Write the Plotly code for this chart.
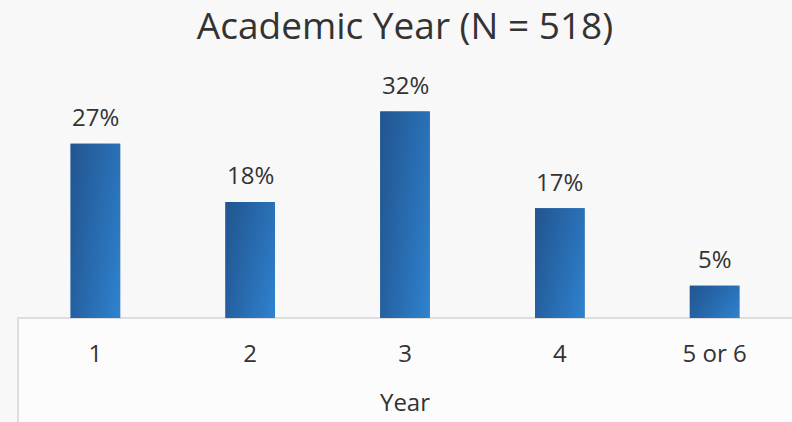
import plotly.graph_objects as go

# Share of respondents by academic year
categories = ["1", "2", "3", "4", "5 or 6"]
percentages = [27, 18, 32, 17, 5]
labels = ["27%", "18%", "32%", "17%", "5%"]

title_text = "Academic Year (N = 518)"
x_title = "Year"

FONT = "Open Sans"
TEXT_COLOR = "#333333"
BG = "#f8f8f8"
BAR_WIDTH = 0.32

x_pos = list(range(len(categories)))

fig = go.Figure()

# Base bars (solid), painted over by the gradient fills below
fig.add_trace(go.Bar(
    x=x_pos, y=percentages, width=BAR_WIDTH,
    marker=dict(color="#2767a6", line=dict(width=0)),
    hoverinfo="skip", showlegend=False,
))

# Gradient fill per bar: horizontal dark-to-light plus a vertical shade toward the top
for xi, v in zip(x_pos, percentages):
    x0, x1 = xi - BAR_WIDTH / 2, xi + BAR_WIDTH / 2
    xs = [x0, x1, x1, x0, x0]
    ys = [0, 0, v, v, 0]
    fig.add_trace(go.Scatter(
        x=xs, y=ys, mode="lines", fill="toself",
        line=dict(width=0, color="rgba(0,0,0,0)"),
        fillgradient=dict(type="horizontal",
                          colorscale=[[0, "#2560a0"], [1, "#2f83d0"]]),
        hoverinfo="skip", showlegend=False,
    ))
    fig.add_trace(go.Scatter(
        x=xs, y=ys, mode="lines", fill="toself",
        line=dict(width=0, color="rgba(0,0,0,0)"),
        fillgradient=dict(type="vertical",
                          colorscale=[[0, "rgba(20,40,80,0)"], [1, "rgba(20,40,80,0.2)"]]),
        hoverinfo="skip", showlegend=False,
    ))

# Value labels above each bar
for xi, v, lab in zip(x_pos, percentages, labels):
    fig.add_annotation(
        x=xi, y=v, text=lab, showarrow=False,
        yanchor="middle", yshift=27,
        font=dict(family=FONT, size=24, color=TEXT_COLOR),
    )

# Framed band behind the category axis
fig.add_shape(
    type="rect", xref="paper", yref="paper",
    x0=0, x1=1.05, y0=-0.6, y1=0,
    line=dict(color="#dedede", width=2), fillcolor="#fcfcfc", layer="below",
)

fig.update_layout(
    width=792, height=422,
    margin=dict(l=18, r=0, t=60, b=104),
    paper_bgcolor=BG, plot_bgcolor="rgba(0,0,0,0)",
    font=dict(family=FONT, color=TEXT_COLOR),
    title=dict(text=title_text, xref="paper", x=0.5, xanchor="center",
               y=0.938, yanchor="middle",
               font=dict(family=FONT, size=37, color=TEXT_COLOR)),
    showlegend=False,
)

fig.update_xaxes(
    range=[-0.5, len(categories) - 0.5],
    tickmode="array", tickvals=x_pos, ticktext=categories,
    tickfont=dict(family=FONT, size=24, color=TEXT_COLOR),
    ticks="outside", ticklen=14, tickcolor="rgba(0,0,0,0)",
    showgrid=False, zeroline=False, showline=False,
    title=dict(text=x_title, font=dict(family=FONT, size=24, color=TEXT_COLOR), standoff=26),
    fixedrange=True,
)
fig.update_yaxes(
    range=[0, 40], visible=False, showgrid=False, zeroline=False, fixedrange=True,
)

fig.write_html("out.html")
